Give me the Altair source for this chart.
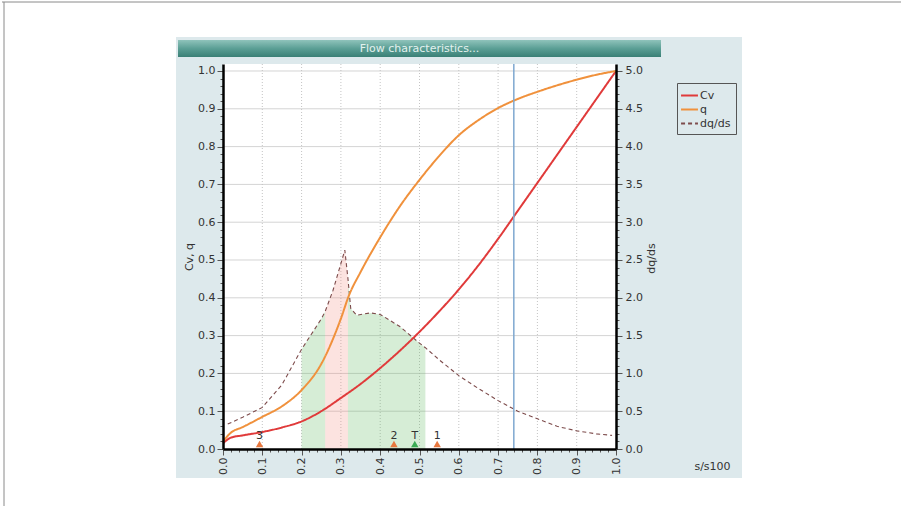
import altair as alt
import pandas as pd

# ---------------- data ----------------
s_cv = [0.0, 0.02, 0.05, 0.1, 0.15, 0.2, 0.25, 0.3, 0.35, 0.4, 0.45, 0.5,
        0.55, 0.6, 0.65, 0.7, 0.75, 0.8, 0.85, 0.9, 0.95, 1.0]
cv = [0.015, 0.03, 0.036, 0.045, 0.057, 0.073, 0.1, 0.135, 0.172, 0.214, 0.26, 0.31,
      0.364, 0.422, 0.486, 0.556, 0.63, 0.704, 0.778, 0.852, 0.926, 1.0]

s_q = [0.0, 0.02, 0.05, 0.1, 0.15, 0.2, 0.25, 0.3, 0.32, 0.35, 0.4, 0.45, 0.5,
       0.55, 0.6, 0.65, 0.7, 0.75, 0.8, 0.85, 0.9, 0.95, 1.0]
q = [0.02, 0.043, 0.058, 0.085, 0.113, 0.156, 0.225, 0.345, 0.405, 0.468, 0.56, 0.642, 0.712,
     0.775, 0.83, 0.87, 0.902, 0.926, 0.945, 0.962, 0.977, 0.99, 1.0]

s_d = [0.012, 0.05, 0.1, 0.15, 0.2, 0.25, 0.26, 0.28, 0.31, 0.318, 0.325, 0.34, 0.375,
       0.4, 0.45, 0.5, 0.515, 0.55, 0.6, 0.65, 0.7, 0.75, 0.8, 0.85, 0.9, 0.95, 0.99]
dqds = [0.33, 0.42, 0.55, 0.85, 1.32, 1.72, 1.82, 2.1, 2.63, 2.25, 1.86, 1.77, 1.80,
        1.78, 1.62, 1.4, 1.34, 1.18, 0.97, 0.8, 0.64, 0.5, 0.4, 0.3, 0.24, 0.2, 0.18]

marker_s = [0.093, 0.435, 0.488, 0.545]
marker_label = ["3", "2", "T", "1"]
marker_kind = ["point", "point", "target", "point"]

vline_s = [0.74]

x_grid = [0.1, 0.2, 0.3, 0.4, 0.5, 0.6, 0.7, 0.8, 0.9]
y_grid = [0.1, 0.2, 0.3, 0.4, 0.5, 0.6, 0.7, 0.8, 0.9, 1.0]
x_ticks = [round(i * 0.02, 2) for i in range(51)]
y_ticks = [round(i * 0.02, 2) for i in range(51)]
r_ticks = [round(i * 0.1, 1) for i in range(51)]

series_names = ["Cv", "q", "dq/ds"]
series_colors = ["#e03a3a", "#f0913c", "#7d4b4b"]

# ---------------- layout ----------------
W, H = 393, 385
Y_MAX = 1.0185
R_MAX = 5 * Y_MAX
PANEL = "#dde9ec"
FONT = "DejaVu Sans"

lines_df = pd.concat([
    pd.DataFrame({"s": s_cv, "value": cv, "series": "Cv"}),
    pd.DataFrame({"s": s_q, "value": q, "series": "q"}),
    pd.DataFrame({"s": s_d, "value": dqds, "series": "dq/ds"}),
], ignore_index=True)
d_df = pd.DataFrame({"s": s_d, "dqds": dqds})
mk_df = pd.DataFrame({"s": marker_s, "label": marker_label, "kind": marker_kind})
one = pd.DataFrame({"a": [0]})

tenth = "abs(datum.value*10 - round(datum.value*10)) < 0.001"
half = "abs(datum.value*2 - round(datum.value*2)) < 0.001"

x_axis = alt.Axis(values=x_ticks, labelExpr=f"{tenth} ? format(datum.value, '.1f') : ''",
                  labelAngle=270, labelAlign="right", labelBaseline="middle",
                  tickSize={"condition": {"test": tenth, "value": 6}, "value": 3},
                  grid=False, domainColor="black", domainWidth=2.5, tickColor="#555",
                  labelPadding=2, labelOverlap=False, labelFlush=False, zindex=1,
                  titleX=489, titleY=17, titleAlign="center", titleBaseline="middle",
                  titleAngle=0)
y_axis = alt.Axis(values=y_ticks, labelExpr=f"{tenth} ? format(datum.value, '.1f') : ''",
                  tickSize={"condition": {"test": tenth, "value": 6}, "value": 3},
                  grid=False, domainColor="black", domainWidth=2.5, tickColor="#555",
                  labelPadding=2, labelOverlap=False, labelFlush=False, zindex=1,
                  titlePadding=3)
r_axis = alt.Axis(orient="right", values=r_ticks,
                  labelExpr=f"{half} ? format(datum.value, '.1f') : ''",
                  tickSize={"condition": {"test": half, "value": 6}, "value": 3},
                  grid=False, domainColor="black", domainWidth=2.5, tickColor="#555",
                  labelPadding=3, labelOverlap=False, labelFlush=False, zindex=1,
                  titleAngle=270, titleX=35, titleY=194,
                  titleAlign="center", titleBaseline="middle")

xscale = alt.Scale(domain=[0, 1], nice=False, zero=False)
yscale = alt.Scale(domain=[0, Y_MAX], nice=False)


def X(field="s"):
    return alt.X(f"{field}:Q", scale=xscale, axis=x_axis, title="s/s100")


def Y(field):
    return alt.Y(f"{field}:Q", scale=yscale, axis=y_axis, title="Cv, q")


def Y0():
    return alt.Y(datum=0, type="quantitative", scale=yscale, axis=y_axis, title="Cv, q")


# ---------------- decoration ----------------
border_top = alt.Chart(one).mark_rule(color="#8a8a8a", strokeWidth=1).encode(
    x=alt.value(-221), x2=alt.value(678), y=alt.value(-62))
border_left = alt.Chart(one).mark_rule(color="#8a8a8a", strokeWidth=1).encode(
    x=alt.value(-219), y=alt.value(-62), y2=alt.value(442))
panel = alt.Chart(one).mark_rect(color=PANEL).encode(
    x=alt.value(-47), x2=alt.value(519), y=alt.value(-27), y2=alt.value(414))
title_bar = alt.Chart(one).mark_rect(
    color=alt.LinearGradient(gradient="linear", x1=0, x2=0, y1=0, y2=1,
                             stops=[alt.GradientStop(offset=0, color="#8fc3bb"),
                                    alt.GradientStop(offset=0.5, color="#5b9f95"),
                                    alt.GradientStop(offset=1, color="#3a8076")])
).encode(x=alt.value(-45), x2=alt.value(438), y=alt.value(-24), y2=alt.value(-7))
title_text = alt.Chart(one).mark_text(
    text="Flow characteristics...", font=FONT, fontSize=11, color="#e3f1ee",
    align="center", baseline="middle"
).encode(x=alt.value(196.5), y=alt.value(-15.5))
plot_bg = alt.Chart(one).mark_rect(color="white").encode(
    x=alt.value(0), x2=alt.value(W), y=alt.value(0), y2=alt.value(H))

hgrid = alt.Chart(pd.DataFrame({"g": y_grid})).mark_rule(
    color="#d4d4d4", strokeWidth=1).encode(y=Y("g"), x=alt.value(0), x2=alt.value(W))
vgrid = alt.Chart(pd.DataFrame({"g": x_grid})).mark_rule(
    color="#c4c4c4", strokeWidth=1, strokeDash=[1, 2]).encode(
    x=X("g"), y=alt.value(0), y2=alt.value(H))


# ---------------- shaded areas under dq/ds ----------------
def band(lo, hi, color, opacity):
    return alt.Chart(d_df).transform_filter(
        f"datum.s >= {lo} && datum.s <= {hi}"
    ).transform_calculate(y="datum.dqds / 5").mark_area(
        color=color, opacity=opacity, interpolate="linear"
    ).encode(x=X(), y=Y("y"))


green1 = band(0.2, 0.26, "#5cb85c", 0.25)
pink = band(0.26, 0.318, "#f08070", 0.22)
green2 = band(0.318, 0.515, "#5cb85c", 0.25)

# ---------------- curves ----------------
legend_def = alt.Legend(title=None, orient="none", legendX=454, legendY=19)
enc = dict(
    x=X(), y=Y("y"),
    color=alt.Color("series:N", scale=alt.Scale(domain=series_names, range=series_colors),
                    legend=legend_def),
    strokeDash=alt.StrokeDash("series:N",
                              scale=alt.Scale(domain=series_names, range=[[1, 0], [1, 0], [4, 3]]),
                              legend=legend_def),
)
base_lines = alt.Chart(lines_df).transform_calculate(
    y="datum.series == 'dq/ds' ? datum.value / 5 : datum.value")
line_d = base_lines.transform_filter("datum.series == 'dq/ds'").mark_line(
    interpolate="linear", strokeWidth=1.1).encode(**enc)
line_cq = base_lines.transform_filter("datum.series != 'dq/ds'").mark_line(
    interpolate="monotone", strokeWidth=2).encode(**enc)

vline = alt.Chart(pd.DataFrame({"s": vline_s})).mark_rule(
    color="#7fa8d0", strokeWidth=1.5).encode(x=X(), y=alt.value(0), y2=alt.value(H))

tri_orange = alt.Chart(mk_df).transform_filter("datum.kind == 'point'").mark_point(
    shape="triangle-up", filled=True, size=55, opacity=1, color="#e8783f", yOffset=-5
).encode(x=X(), y=Y0())
tri_green = alt.Chart(mk_df).transform_filter("datum.kind == 'target'").mark_point(
    shape="triangle-up", filled=True, size=55, opacity=1, color="#3bab55", yOffset=-5
).encode(x=X(), y=Y0())
tri_text = alt.Chart(mk_df).mark_text(
    font=FONT, fontSize=11, color="#333", dy=-13, align="center", baseline="middle"
).encode(x=X(), y=Y0(), text="label:N")

left = alt.layer(border_top, border_left, panel, title_bar, title_text, plot_bg,
                 hgrid, vgrid, green1, pink, green2, line_d, line_cq, vline,
                 tri_orange, tri_green, tri_text)

right = alt.Chart(d_df).mark_line(opacity=0).encode(
    x=X(),
    y=alt.Y("dqds:Q", scale=alt.Scale(domain=[0, R_MAX], nice=False), axis=r_axis, title="dq/ds"),
)

chart = alt.layer(left, right).resolve_scale(y="independent").properties(
    width=W, height=H,
    padding={"left": 223, "top": 64, "right": 285, "bottom": 57},
    autosize=alt.AutoSizeParams(type="none"),
    background="white",
).configure_view(stroke="transparent").configure_axis(
    labelFont=FONT, labelFontSize=11, labelColor="#333",
    titleFont=FONT, titleFontSize=11, titleFontWeight="normal", titleColor="#333",
).configure_legend(
    labelFont=FONT, labelFontSize=11, labelColor="#333",
    strokeColor="#555", fillColor=PANEL, padding=5, cornerRadius=0,
    symbolType="M-1.3,0H1.3", symbolSize=169, symbolStrokeWidth=2, rowPadding=1, labelOffset=3,
)

chart.save("out.html", embed_options={"renderer": "svg", "actions": False})
